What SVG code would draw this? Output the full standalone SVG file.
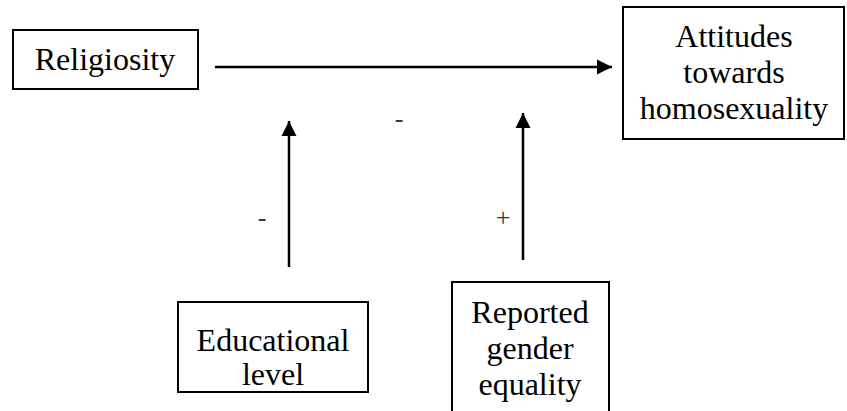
<svg xmlns="http://www.w3.org/2000/svg" width="847" height="411" viewBox="0 0 847 411">
<style>
.box{fill:#fff;stroke:#000;stroke-width:2}
.t{font-family:'Liberation Serif','Times New Roman',serif;font-size:32px;fill:#000;text-anchor:middle}
.lbl{font-family:'Liberation Serif','Times New Roman',serif;font-size:26px;fill:#333;text-anchor:middle}
.c{stroke:#000;stroke-width:2.5;fill:none}
</style>
<defs>
<marker id="ah" viewBox="0 0 10 10" refX="10" refY="5" markerWidth="6" markerHeight="6.4" markerUnits="strokeWidth" orient="auto">
<path d="M0,0 L10,5 L0,10 z" fill="#000"/>
</marker>
</defs>
<g id="religiosity">
<rect class="box" x="13" y="30" width="185" height="59"/>
<text class="t" x="105" y="70">Religiosity</text>
</g>
<g id="attitudes">
<rect class="box" x="623" y="7" width="221" height="132"/>
<text class="t" x="734" y="47">Attitudes</text>
<text class="t" x="734" y="83">towards</text>
<text class="t" x="734" y="119">homosexuality</text>
</g>
<g id="education">
<rect class="box" x="178" y="302" width="190" height="90"/>
<text class="t" x="273" y="351">Educational</text>
<text class="t" x="273" y="385">level</text>
</g>
<g id="gender">
<rect class="box" x="452" y="282" width="157" height="140"/>
<text class="t" x="530" y="323">Reported</text>
<text class="t" x="530" y="359">gender</text>
<text class="t" x="530" y="395">equality</text>
</g>
<g id="connectors">
<line class="c" x1="215" y1="67" x2="612" y2="67" marker-end="url(#ah)"/>
<line class="c" x1="289" y1="267" x2="289" y2="121" marker-end="url(#ah)"/>
<line class="c" x1="523" y1="260" x2="523" y2="113" marker-end="url(#ah)"/>
</g>
<g id="labels">
<text class="lbl" x="399" y="127">-</text>
<text class="lbl" x="262" y="226">-</text>
<text class="lbl" x="503" y="226">+</text>
</g>
</svg>
